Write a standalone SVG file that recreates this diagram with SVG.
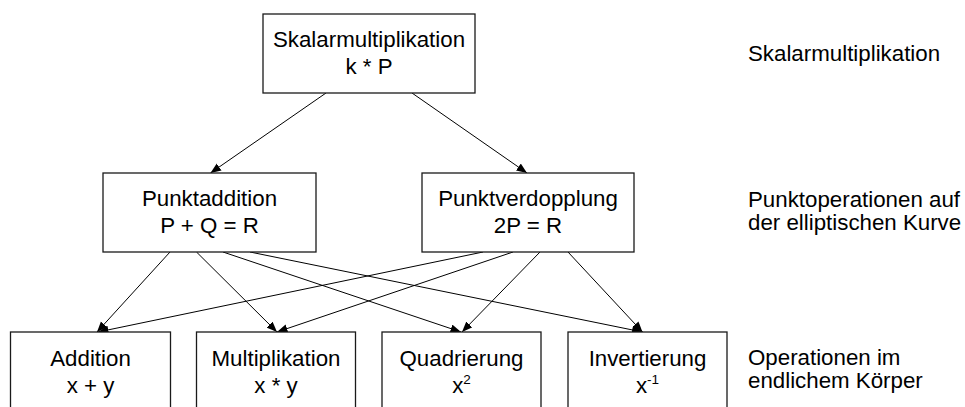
<svg xmlns="http://www.w3.org/2000/svg" width="965" height="407" viewBox="0 0 965 407">
<style>
  .box { fill: #ffffff; stroke: #1a1a1a; stroke-width: 1.3; }
  .t { font-family: "Liberation Sans", Arial, sans-serif; font-size: 22.3px; fill: #000; text-anchor: middle; }
  .lbl { font-family: "Liberation Sans", Arial, sans-serif; font-size: 22.3px; fill: #000; }
  .sup { font-size: 13.5px; }
  .edge { stroke: #000; stroke-width: 1; fill: none; marker-end: url(#arr); }
</style>
<defs>
  <marker id="arr" markerUnits="userSpaceOnUse" markerWidth="11" markerHeight="9" refX="10.5" refY="4.25" orient="auto">
    <path d="M0,0 L10.5,4.25 L0,8.5 z" fill="#000"/>
  </marker>
</defs>
<rect width="965" height="407" fill="#ffffff"/>

<g id="connectors">
  <line class="edge" x1="326" y1="93" x2="210.5" y2="173"/>
  <line class="edge" x1="412" y1="93" x2="527" y2="173"/>
  <line class="edge" x1="170" y1="252" x2="97" y2="332"/>
  <line class="edge" x1="196.5" y1="252" x2="277" y2="332"/>
  <line class="edge" x1="223" y1="252" x2="461" y2="332"/>
  <line class="edge" x1="250" y1="252" x2="642.5" y2="332"/>
  <line class="edge" x1="483" y1="252" x2="98" y2="332"/>
  <line class="edge" x1="513" y1="252" x2="277" y2="332"/>
  <line class="edge" x1="540" y1="252" x2="462" y2="332"/>
  <line class="edge" x1="568" y1="252" x2="642.5" y2="332"/>
</g>

<g id="skalarmultiplikation">
  <rect class="box" x="263" y="14" width="212" height="79"/>
  <text class="t" x="369" y="46.5">Skalarmultiplikation</text>
  <text class="t" x="369" y="73.5">k * P</text>
</g>

<g id="punktaddition">
  <rect class="box" x="103" y="173" width="213" height="79"/>
  <text class="t" x="209.5" y="205.5">Punktaddition</text>
  <text class="t" x="209.5" y="232.5">P + Q = R</text>
</g>

<g id="punktverdopplung">
  <rect class="box" x="422" y="173" width="212" height="79"/>
  <text class="t" x="528" y="205.5">Punktverdopplung</text>
  <text class="t" x="528" y="232.5">2P = R</text>
</g>

<g id="addition">
  <rect class="box" x="10.5" y="332" width="160" height="80"/>
  <text class="t" x="90.5" y="365.5">Addition</text>
  <text class="t" x="90.5" y="392.5">x + y</text>
</g>

<g id="multiplikation">
  <rect class="box" x="196.5" y="332" width="159" height="80"/>
  <text class="t" x="276" y="365.5">Multiplikation</text>
  <text class="t" x="276" y="392.5">x * y</text>
</g>

<g id="quadrierung">
  <rect class="box" x="382" y="332" width="159" height="80"/>
  <text class="t" x="461.5" y="365.5">Quadrierung</text>
  <text class="t" x="461.5" y="392.5">x<tspan class="sup" dy="-9">2</tspan></text>
</g>

<g id="invertierung">
  <rect class="box" x="568" y="332" width="159" height="80"/>
  <text class="t" x="647.5" y="365.5">Invertierung</text>
  <text class="t" x="647.5" y="392.5">x<tspan class="sup" dy="-9">-1</tspan></text>
</g>

<g id="level-labels">
  <text class="lbl" x="748" y="60.5">Skalarmultiplikation</text>
  <text class="lbl" x="748" y="207">Punktoperationen auf</text>
  <text class="lbl" x="748" y="230">der elliptischen Kurve</text>
  <text class="lbl" x="748" y="364.5">Operationen im</text>
  <text class="lbl" x="748" y="387.5">endlichem Körper</text>
</g>
</svg>
